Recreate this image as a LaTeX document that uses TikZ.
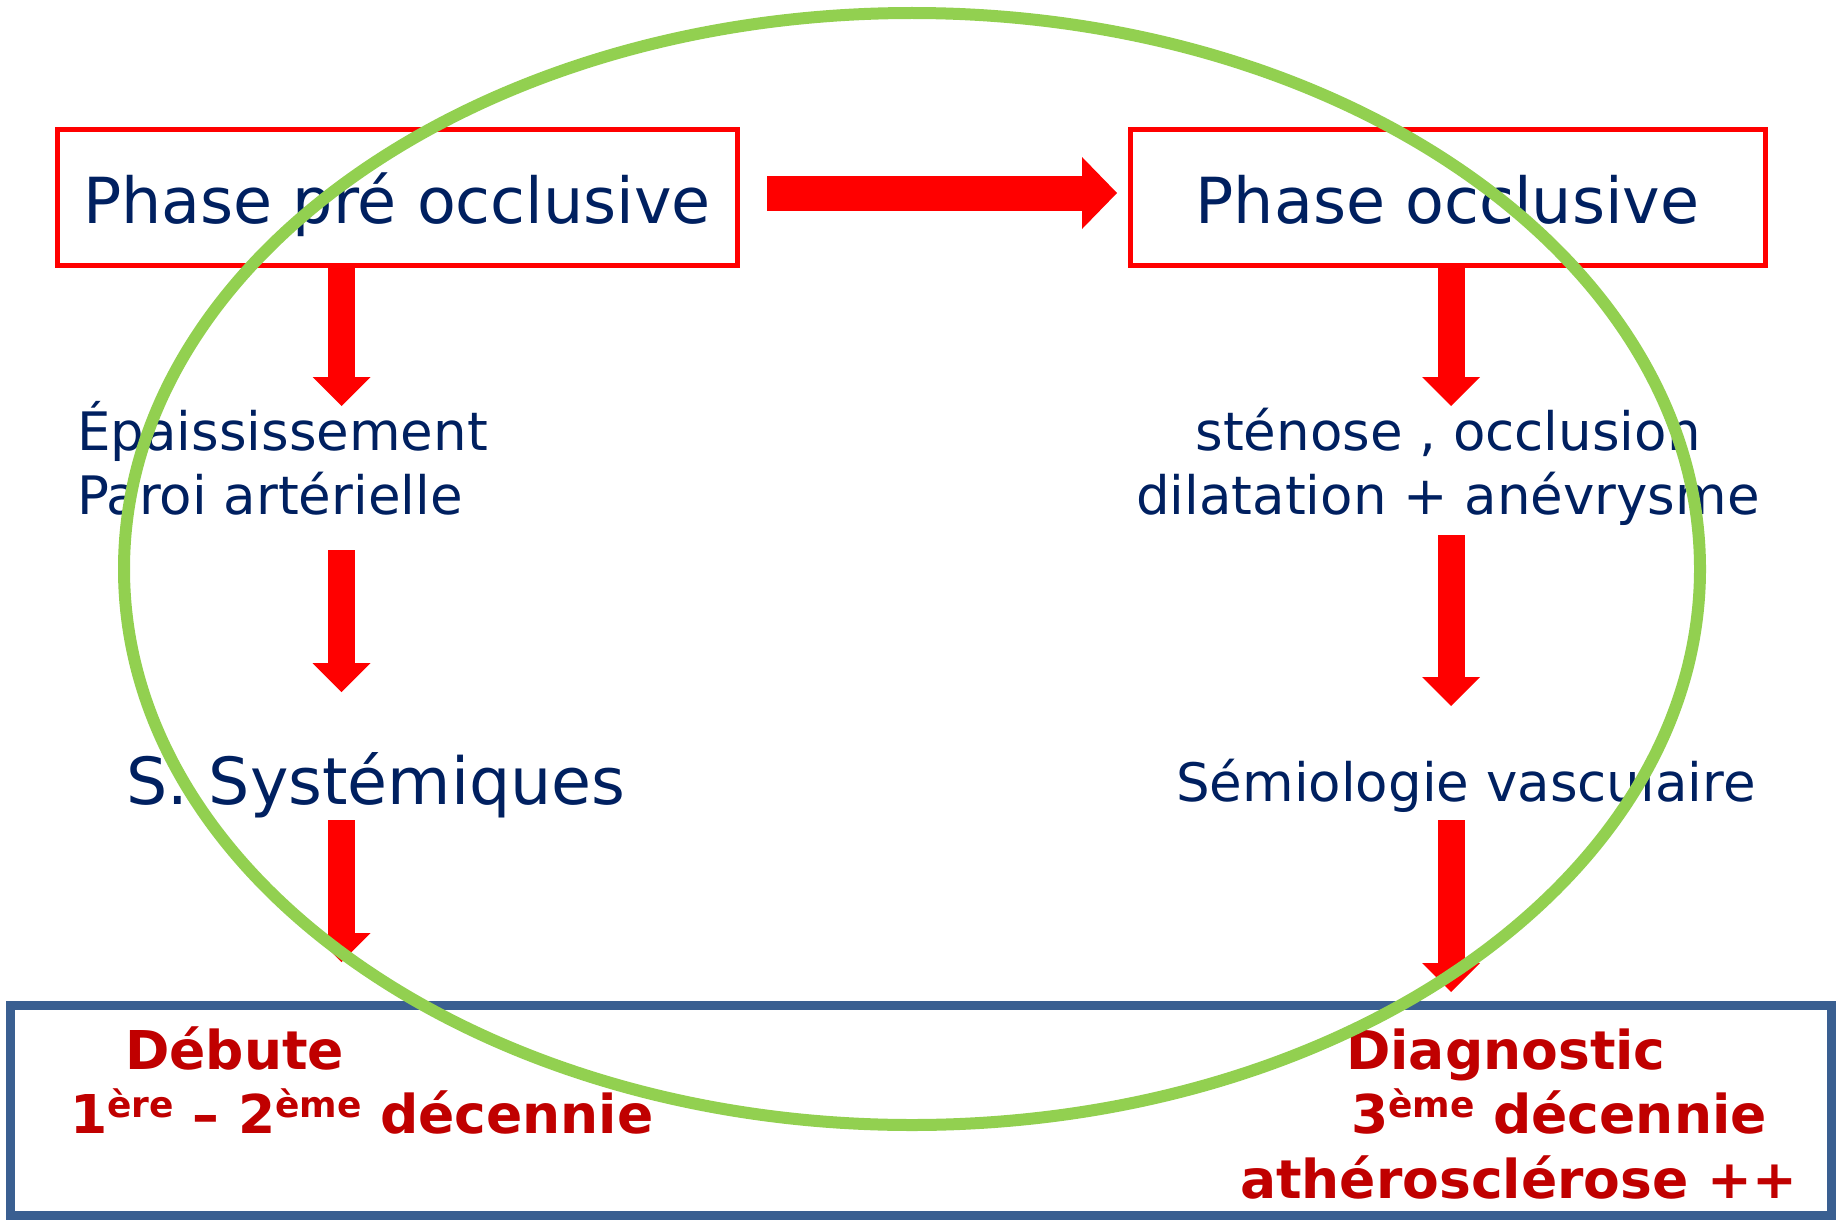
\documentclass[tikz,border=0pt]{standalone}
\usepackage{fontspec}
\setmainfont{DejaVu Sans}
\usetikzlibrary{arrows.meta}
\definecolor{slideNavy}{RGB}{0, 32, 96}
\definecolor{slideRed}{RGB}{255, 0, 0}
\definecolor{slideDark}{RGB}{192, 0, 0}
\definecolor{slideGreen}{RGB}{146, 208, 80}
\definecolor{slideBlue}{RGB}{58, 95, 145}
\newcommand{\expo}[1]{\raisebox{16pt}{\fontsize{36}{36}\selectfont #1}}

\begin{document}
\begin{tikzpicture}[
    x=1pt, y=-1pt,
    phase/.style={rectangle, draw=slideRed, line width=5pt, fill=white,
                  minimum height=135pt, text=slideNavy, inner sep=0pt,
                  text height=51pt, text depth=0pt,
                  font=\fontsize{63.5}{76}\selectfont},
    stage/.style={text=slideNavy, inner sep=0pt,
                  font=\fontsize{53}{64}\selectfont},
    result/.style={text=slideDark, inner sep=0pt, anchor=base west,
                   font=\fontsize{53.5}{64}\selectfont\bfseries},
    flow/.style={draw=slideRed, line width=27pt,
                 -{Triangle[width=58pt, length=29pt, line width=0pt]}},
  ]
  \useasboundingbox (0,0) rectangle (1838,1220);

  % the two phases
  \node[phase, minimum width=680pt] (pre) at (397,197.5) {Phase pré occlusive};
  \node[phase, minimum width=635pt] (occ) at (1447.5,197.5) {Phase occlusive};

  % what follows each phase
  \node[stage, align=left, anchor=base west] (wall) at (77,514)
    {Épaississement\\Paroi artérielle};
  \node[stage, align=center, anchor=base] (sten) at (1448,514)
    {sténose , occlusion\\dilatation + anévrysme};
  \node[stage, font=\fontsize{65}{76}\selectfont, anchor=base west] (sys)
    at (126,804) {S. Systémiques};
  \node[stage, anchor=base west] (semio) at (1176,801) {Sémiologie vasculaire};

  % age box
  \node[draw=slideBlue, line width=9pt, minimum width=1821pt,
        minimum height=210pt, inner sep=0pt] (decade) at (920.5,1110) {};
  \node[result] (debut) at (125,1069) {Débute};
  \node[result] (first) at (70,1133) {1\expo{ère} – 2\expo{ème} décennie};
  \node[result] (diag) at (1346,1069) {Diagnostic};
  \node[result] (third) at (1351,1133) {3\expo{ème} décennie};
  \node[result] (athero) at (1240,1198) {athérosclérose ++};

  % arrow ends
  \coordinate (h1) at (767,193);    \coordinate (h2) at (1117,193);
  \coordinate (l1) at (341.5,268);  \coordinate (l2) at (341.5,406);
  \coordinate (l3) at (341.5,550);  \coordinate (l4) at (341.5,692);
  \coordinate (l5) at (341.5,820);  \coordinate (l6) at (341.5,962);
  \coordinate (r1) at (1451,268);   \coordinate (r2) at (1451,406);
  \coordinate (r3) at (1451,535);   \coordinate (r4) at (1451,706);
  \coordinate (r5) at (1451,820);   \coordinate (r6) at (1451,992);

  \draw[flow, line width=35pt,
        -{Triangle[width=72pt, length=35pt, line width=0pt]}] (h1) -- (h2);
  \draw[flow] (l1) -- (l2);
  \draw[flow] (l3) -- (l4);
  \begin{scope}
    \clip (328,800) rectangle (400,1000);
    \draw[flow] (l5) -- (l6);
  \end{scope}
  \draw[flow] (r1) -- (r2);
  \draw[flow] (r3) -- (r4);
  \draw[flow] (r5) -- (r6);

  % green ring on top
  \draw[slideGreen, line width=12pt] (912,569) ellipse [x radius=788pt, y radius=556pt];
\end{tikzpicture}
\end{document}
